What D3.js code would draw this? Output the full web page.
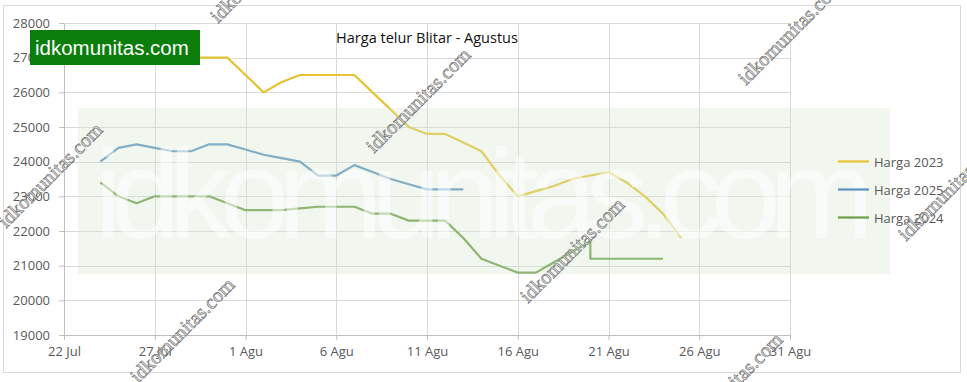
<!DOCTYPE html>
<html>
<head>
<meta charset="utf-8">
<script src="https://cdn.jsdelivr.net/npm/d3@7"></script>
<style>
  body { margin: 0; background: #fff; }
  svg text { font-family: "Open Sans", sans-serif; }
</style>
</head>
<body>
<div id="chart"></div>
<script>
// tanggal (Jul-Agu), harga per tahun
var dates2023 = ["07-24","07-25","07-26","07-27","07-28","07-29","07-30","07-31",
  "08-01","08-02","08-03","08-04","08-05","08-06","08-07","08-08","08-09","08-10",
  "08-11","08-12","08-13","08-14","08-15","08-16","08-17","08-18","08-19","08-20",
  "08-21","08-22","08-23","08-24","08-25"];
var harga2023 = [27000,27000,27000,27000,27000,27000,27000,27000,
  26500,26000,26300,26500,26500,26500,26500,26000,25500,25000,
  24800,24800,24550,24300,23600,23000,23150,23300,23500,23600,
  23700,23400,23000,22500,21800];

var dates2025 = ["07-24","07-25","07-26","07-27","07-28","07-29","07-30","07-31",
  "08-01","08-02","08-03","08-04","08-05","08-06","08-07","08-08","08-09","08-10",
  "08-11","08-12","08-13"];
var harga2025 = [24000,24400,24500,24400,24300,24300,24500,24500,
  24350,24200,24100,24000,23600,23600,23900,23700,23500,23350,
  23200,23200,23200];

var dates2024 = ["07-24","07-25","07-26","07-27","07-28","07-29","07-30","07-31",
  "08-01","08-02","08-03","08-04","08-05","08-06","08-07","08-08","08-09","08-10",
  "08-11","08-12","08-13","08-14","08-15","08-16","08-17","08-18","08-19","08-20",
  "08-20","08-21","08-22","08-23","08-24"];
var harga2024 = [23400,23000,22800,23000,23000,23000,23000,22800,
  22600,22600,22600,22650,22700,22700,22700,22500,22500,22300,
  22300,22300,21800,21200,21000,20800,20800,21100,21400,21700,
  21200,21200,21200,21200,21200];

var seriesNames = ["Harga 2023", "Harga 2025", "Harga 2024"];
var seriesColors = ["#e5c332", "#5a93c0", "#6c9e46"];

var xTickDates = ["07-22","07-27","08-01","08-06","08-11","08-16","08-21","08-26","08-31"];
var xTickLabels = ["22 Jul","27 Jul","1 Agu","6 Agu","11 Agu","16 Agu","21 Agu","26 Agu","31 Agu"];
var yTicks = [19000,20000,21000,22000,23000,24000,25000,26000,27000,28000];

var chartTitle = "Harga telur Blitar - Agustus";
var watermark = "idkomunitas.com";

var W = 967, H = 382;
var margin = {top: 23, left: 64},
    pw = 726, ph = 312;

var parse = function(s){ return d3.timeParse("%Y-%m-%d")("2024-" + s); };

var svg = d3.select("#chart").append("svg")
    .attr("width", W)
    .attr("height", H);

// outer frame
svg.append("rect")
    .attr("x", 3.5).attr("y", 5.5)
    .attr("width", 957).attr("height", 367)
    .attr("fill", "#fff")
    .attr("stroke", "#d9d9d9");

var g = svg.append("g")
    .attr("transform", "translate(" + margin.left + "," + margin.top + ")");

var x = d3.scaleTime()
    .domain([parse(xTickDates[0]), parse(xTickDates[xTickDates.length - 1])])
    .range([0, pw]);
var y = d3.scaleLinear().domain([19000, 28000]).range([ph, 0]);

// grid
g.selectAll(".hgrid").data(yTicks).enter().append("line")
    .attr("x1", 0).attr("x2", pw)
    .attr("y1", d => Math.round(y(d)) + 0.5).attr("y2", d => Math.round(y(d)) + 0.5)
    .attr("stroke", "#d9d9d9");
g.selectAll(".vgrid").data(xTickDates.slice(1)).enter().append("line")
    .attr("x1", d => Math.round(x(parse(d))) + 0.5).attr("x2", d => Math.round(x(parse(d))) + 0.5)
    .attr("y1", 0).attr("y2", ph)
    .attr("stroke", "#d9d9d9");

// watermark band with huge text (under the lines)
svg.append("rect")
    .attr("x", 78).attr("y", 108).attr("width", 812).attr("height", 166)
    .attr("fill", "#d4e8cf").attr("opacity", 0.33);
svg.append("text")
    .attr("x", 484).attr("y", 238)
    .attr("text-anchor", "middle")
    .style("font-family", "'Liberation Sans', Arial, sans-serif")
    .style("font-size", "126px")
    .attr("textLength", 780)
    .attr("fill", "#ffffff").attr("opacity", 0.5)
    .text(watermark);

// axes
var yAxis = g.append("g")
    .call(d3.axisLeft(y).tickValues(yTicks).tickSize(5).tickPadding(9).tickSizeOuter(0)
        .tickFormat(d3.format("d")));
var xAxis = g.append("g")
    .attr("transform", "translate(0," + ph + ")")
    .call(d3.axisBottom(x).tickValues(xTickDates.map(parse)).tickSize(5).tickPadding(7)
        .tickSizeOuter(0)
        .tickFormat((d, i) => xTickLabels[i]));
[yAxis, xAxis].forEach(function(a){
    a.selectAll("path, line").attr("stroke", "#bfbfbf");
    a.selectAll("text").attr("fill", "#595959").style("font-size", "13px");
});

// lines
var line = d3.line()
    .x(d => x(parse(d[0])))
    .y(d => y(d[1]));
var allSeries = [
    d3.zip(dates2023, harga2023),
    d3.zip(dates2025, harga2025),
    d3.zip(dates2024, harga2024)
];
g.selectAll(".series").data(allSeries).enter().append("path")
    .attr("fill", "none")
    .attr("stroke", (d, i) => seriesColors[i])
    .attr("stroke-width", 2.2)
    .attr("stroke-linejoin", "round")
    .attr("d", line);

// title
svg.append("text")
    .attr("x", 427).attr("y", 43)
    .attr("text-anchor", "middle")
    .style("font-size", "14.5px")
    .attr("fill", "#111")
    .text(chartTitle);

// legend
var leg = svg.selectAll(".leg").data(seriesNames).enter().append("g")
    .attr("transform", (d, i) => "translate(838," + (161.5 + i * 28) + ")");
leg.append("line").attr("x1", 0).attr("x2", 31)
    .attr("stroke", (d, i) => seriesColors[i]).attr("stroke-width", 2.2);
leg.append("text").attr("x", 36).attr("y", 5)
    .style("font-size", "13px").attr("fill", "#595959")
    .text(d => d);

// green badge
svg.append("rect")
    .attr("x", 30).attr("y", 30).attr("width", 170).attr("height", 35)
    .attr("fill", "#0a7d0a");
svg.append("text")
    .attr("x", 35).attr("y", 55)
    .style("font-family", "'Liberation Sans', Arial, sans-serif")
    .style("font-size", "20.5px")
    .attr("fill", "#fff")
    .text(watermark);

// diagonal stamps
var stamps = [[50, 175], [418, 100], [790, 32], [182, 330], [572, 250], [730, 385], [950, 188], [262, -30]];
svg.selectAll(".stamp").data(stamps).enter().append("text")
    .attr("transform", d => "translate(" + d[0] + "," + d[1] + ") rotate(-45)")
    .attr("text-anchor", "middle")
    .attr("dy", "0.35em")
    .style("font-family", "'Liberation Serif', 'DejaVu Serif', serif")
    .style("font-size", "20px")
    .attr("fill", "#e4e4e4")
    .attr("stroke", "#707070")
    .attr("stroke-width", 0.6)
    .text(watermark);
</script>
</body>
</html>
